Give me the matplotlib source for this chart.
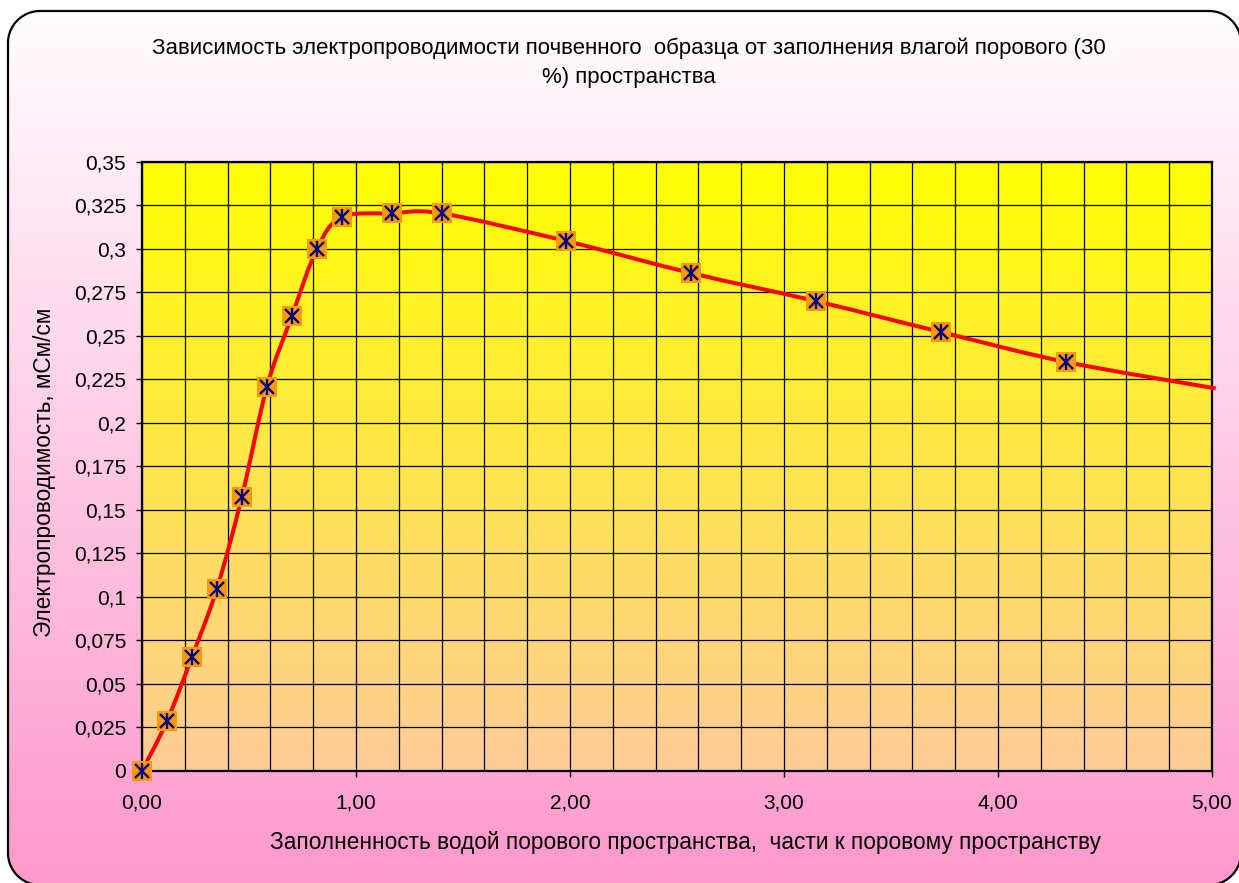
import numpy as np
import matplotlib.pyplot as plt
from matplotlib.patches import PathPatch
from matplotlib.path import Path
from matplotlib.ticker import MultipleLocator, FuncFormatter

# заполненность водой порового пространства (части) и электропроводимость (мСм/см)
fill = [0.0, 0.117, 0.233, 0.350, 0.467, 0.583, 0.700, 0.817, 0.933,
        1.167, 1.400, 1.983, 2.567, 3.150, 3.733, 4.317, 5.017]
cond = [0.0, 0.0287, 0.0654, 0.1047, 0.1576, 0.2203, 0.2611, 0.2997, 0.3180,
        0.3202, 0.3202, 0.3043, 0.2859, 0.2698, 0.2521, 0.2349, 0.2197]
n_marked = 16  # последняя точка за пределами оси, без маркера

title = ("Зависимость электропроводимости почвенного  образца от заполнения влагой порового (30\n"
         "%) пространства")
xlabel = "Заполненность водой порового пространства,  части к поровому пространству"
ylabel = "Электропроводимость, мСм/см"

plt.rcParams['font.family'] = ['Liberation Sans', 'DejaVu Sans']

W, H = 1239, 883
fig = plt.figure(figsize=(W / 100, H / 100), dpi=100)
fig.patch.set_facecolor('white')

# фон диаграммы: скруглённая рамка с градиентом белый -> розовый
bg = fig.add_axes([0, 0, 1, 1])
bg.set_xlim(0, W)
bg.set_ylim(0, H)
bg.axis('off')


def rounded_rect(x0, y0, x1, y1, r, n=24):
    a = np.linspace(0, np.pi / 2, n)
    pts = []
    for cx, cy, start in [(x1 - r, y1 - r, 0), (x0 + r, y1 - r, np.pi / 2),
                          (x0 + r, y0 + r, np.pi), (x1 - r, y0 + r, 1.5 * np.pi)]:
        pts += list(zip(cx + r * np.cos(start + a), cy + r * np.sin(start + a)))
    pts.append(pts[0])
    return Path(pts, closed=True)


frame = PathPatch(rounded_rect(8, H - 885, 1241, H - 11, 32), facecolor='none',
                  edgecolor='black', linewidth=1.6, zorder=3)
bg.add_patch(frame)
top_c = np.array([1.0, 1.0, 1.0])
bot_c = np.array([1.0, 0.6, 0.8])
t = np.linspace(0, 1, 256)[:, None]
grad = (top_c * (1 - t) + bot_c * t)[:, None, :]
im = bg.imshow(grad, extent=(0, W, 0, H), aspect='auto', zorder=1)
im.set_clip_path(frame)
bg.set_xlim(0, W)
bg.set_ylim(0, H)

# область построения
ax = fig.add_axes([142 / W, 1 - 771 / H, (1212 - 142) / W, (771 - 161.5) / H])
ax.set_xlim(0, 5)
ax.set_ylim(0, 0.35)
top_p = np.array([1.0, 1.0, 0.0])
bot_p = np.array([1.0, 0.8, 0.6])
grad2 = (top_p * (1 - t) + bot_p * t)[:, None, :]
ax.imshow(grad2, extent=(0, 5, 0, 0.35), aspect='auto', zorder=0)

ax.xaxis.set_major_locator(MultipleLocator(1.0))
ax.xaxis.set_minor_locator(MultipleLocator(0.2))
ax.yaxis.set_major_locator(MultipleLocator(0.025))
ax.grid(True, which='minor', axis='x', color='black', linewidth=0.9, zorder=1)
ax.grid(True, which='major', axis='both', color='black', linewidth=0.9, zorder=1)
ax.set_axisbelow(False)
ax.tick_params(axis='x', which='minor', length=0)
ax.tick_params(axis='both', which='major', direction='out', length=4.5, width=1,
               labelsize=15, color='black')
ax.tick_params(axis='x', pad=12)
ax.tick_params(axis='y', pad=7)
ax.xaxis.set_major_formatter(FuncFormatter(lambda v, p: f"{v:.2f}".replace('.', ',')))
ax.yaxis.set_major_formatter(FuncFormatter(lambda v, p: f"{round(v, 3):g}".replace('.', ',')))
for s in ax.spines.values():
    s.set_color('black')
    s.set_linewidth(1.6)
    s.set_zorder(4)

# сглаженная линия (кубические кривые Безье как в Excel)
fig.canvas.draw()
pts = ax.transData.transform(np.column_stack([fill, cond]))
verts = [pts[0]]
codes = [Path.MOVETO]
for i in range(len(pts) - 1):
    p0 = pts[i - 1] if i > 0 else pts[i]
    p1, p2 = pts[i], pts[i + 1]
    p3 = pts[i + 2] if i + 2 < len(pts) else pts[i + 1]
    c1 = p1 + (p2 - p0) / 6
    c2 = p2 - (p3 - p1) / 6
    verts += [c1, c2, p2]
    codes += [Path.CURVE4] * 3
verts = ax.transData.inverted().transform(np.array(verts))
curve = PathPatch(Path(verts, codes), facecolor='none', edgecolor='#ff0000',
                  linewidth=2.9, zorder=5, clip_on=False, capstyle='butt')
ax.add_patch(curve)

ax.plot(fill[:n_marked], cond[:n_marked], linestyle='none', marker='s', markersize=14.8,
        markerfacecolor='#ff9900', markeredgewidth=0, zorder=6, clip_on=False)
ax.plot(fill[:n_marked], cond[:n_marked], linestyle='none', marker='x', markersize=9.5,
        markeredgecolor='#000080', markeredgewidth=1.7, zorder=7, clip_on=False)
ax.plot(fill[:n_marked], cond[:n_marked], linestyle='none', marker='|', markersize=11,
        markeredgecolor='#000080', markeredgewidth=1.7, zorder=7, clip_on=False)

fig.text(629 / W, 1 - 63 / H, title, ha='center', va='center', fontsize=16,
         linespacing=1.5, multialignment='center')
fig.text(685 / W, 1 - 843 / H, xlabel, ha='center', va='center', fontsize=16.3)
fig.text(45 / W, 1 - 472 / H, ylabel, ha='center', va='center', fontsize=16.3,
         rotation=90)

fig.savefig('out.png', dpi=100)
